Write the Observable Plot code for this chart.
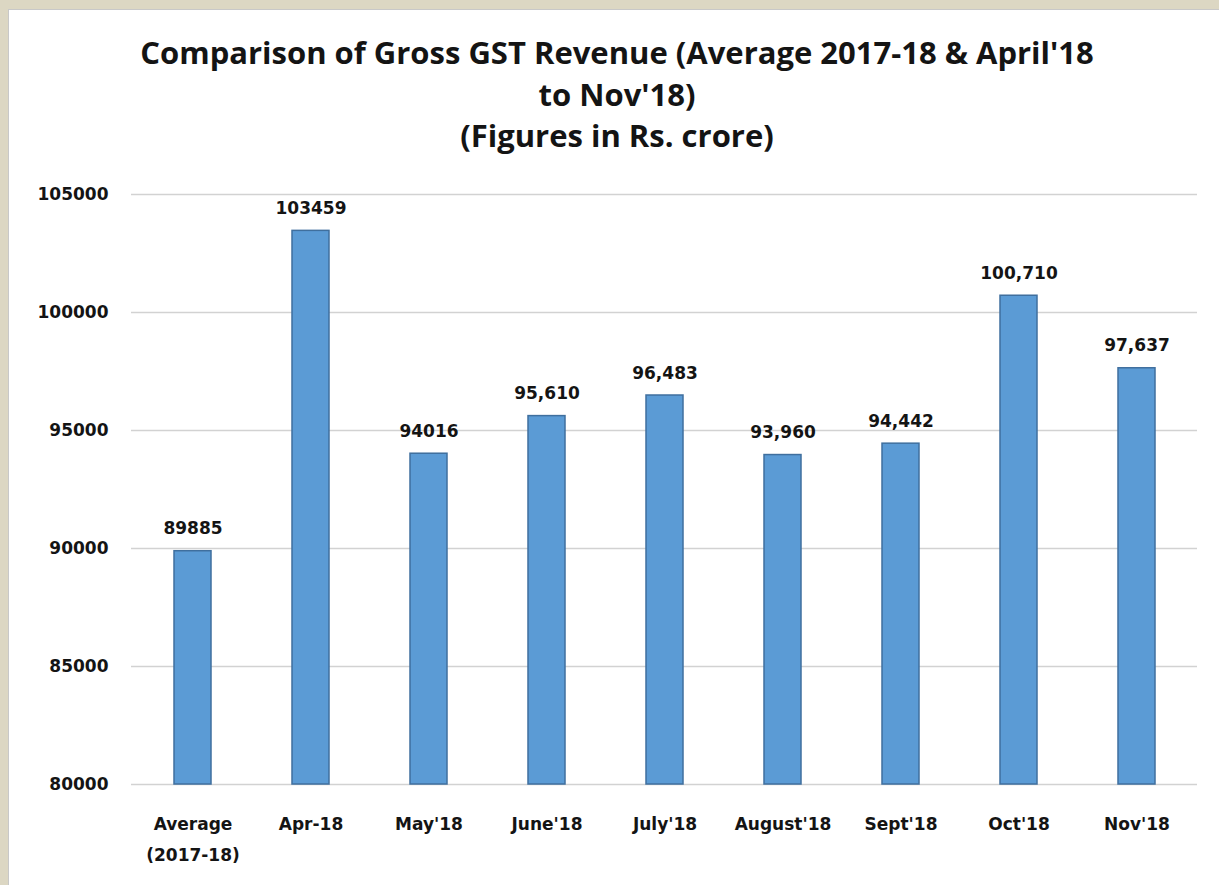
<!DOCTYPE html>
<html>
<head>
<meta charset="utf-8">
<script src="https://cdn.jsdelivr.net/npm/d3@7"></script>
<script src="https://cdn.jsdelivr.net/npm/@observablehq/plot@0.6"></script>
<style>
  html, body { margin: 0; padding: 0; }
  body { width: 1219px; height: 885px; background: #dcd7c3; position: relative; overflow: hidden; font-family: "DejaVu Sans", sans-serif; }
  #panel { position: absolute; left: 8px; top: 9px; width: 1211px; height: 876px; background: #fff; border-top: 1px solid #c8c8c8; border-left: 1px solid #c8c8c8; }
  #title { position: absolute; left: 0; top: 32px; width: 1234px; text-align: center; font-family: "Open Sans", sans-serif; font-weight: 700; font-size: 31px; line-height: 41.5px; color: #141414; }
  #chart { position: absolute; left: 0; top: 170px; }
</style>
</head>
<body>
<div id="panel"></div>
<div id="title">Comparison of Gross GST Revenue (Average 2017-18 &amp; April'18<br>to Nov'18)<br>(Figures in Rs. crore)</div>
<div id="chart"></div>
<script>
const categories = ["Average\n(2017-18)", "Apr-18", "May'18", "June'18", "July'18", "August'18", "Sept'18", "Oct'18", "Nov'18"];
const values = [89885, 103459, 94016, 95610, 96483, 93960, 94442, 100710, 97637];
const valueLabels = ["89885", "103459", "94016", "95,610", "96,483", "93,960", "94,442", "100,710", "97,637"];
const yTicks = [80000, 85000, 90000, 95000, 100000, 105000];

const data = categories.map((c, i) => ({cat: c, value: values[i], label: valueLabels[i]}));

const font = "DejaVu Sans, sans-serif";
const chart = Plot.plot({
  width: 1219,
  height: 700,
  marginLeft: 131,
  marginRight: 22,
  marginTop: 24,
  marginBottom: 86,
  style: {fontFamily: font, fontSize: "17px", fontWeight: "700", color: "#141414", background: "transparent"},
  x: {domain: categories, paddingInner: 0.69, paddingOuter: 0.345, label: null},
  y: {domain: [80000, 105000], ticks: yTicks, label: null},
  marks: [
    Plot.ruleY(yTicks, {stroke: "#d2d2d2", strokeWidth: 1.5}),
    Plot.barY(data, {x: "cat", y1: 80000, y2: "value", fill: "#5b9bd5", stroke: "#3f6f9e", strokeWidth: 1.5}),
    Plot.text(data, {x: "cat", y: "value", text: "label", dy: -17, lineAnchor: "bottom", fontSize: 17, fontWeight: 700, fill: "#141414"}),
    Plot.axisY({ticks: yTicks, tickSize: 0, tickPadding: 23, tickFormat: d => String(d), fontSize: 17, fontWeight: 700, fill: "#141414"}),
    Plot.axisX({tickSize: 0, tickPadding: 24, fontSize: 17, fontWeight: 700, fill: "#141414", lineHeight: 1.82})
  ]
});
document.getElementById("chart").appendChild(chart);
</script>
</body>
</html>
